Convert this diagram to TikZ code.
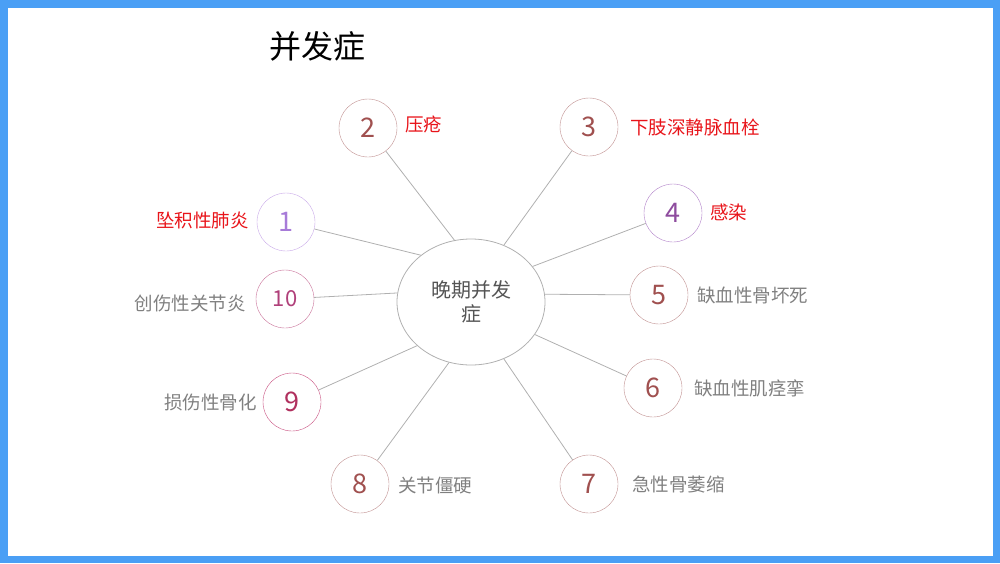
\documentclass[tikz,border=0pt]{standalone}
\usepackage{fontspec}
\setmainfont{Noto Sans CJK SC}
\usetikzlibrary{shapes.geometric}
\definecolor{frameblue}{HTML}{4A9FF5}
\definecolor{linegray}{HTML}{B0B0B0}
\definecolor{txtgray}{HTML}{808080}
\definecolor{txtred}{HTML}{E8141A}
\definecolor{brownc}{HTML}{C09090}
\definecolor{brownn}{HTML}{A0504F}
\definecolor{lavc}{HTML}{C8A8E8}
\definecolor{lavn}{HTML}{A77BD8}
\definecolor{violc}{HTML}{B080C8}
\definecolor{violn}{HTML}{8E4C9E}
\definecolor{pinkc}{HTML}{C87098}
\definecolor{pinkn}{HTML}{B0407A}
\definecolor{crimc}{HTML}{C85080}
\definecolor{crimn}{HTML}{B0305E}
\tikzset{
  num/.style={circle, draw=brownc, text=brownn, minimum size=58pt, inner sep=0pt, font=\fontsize{27}{27}\selectfont},
  redlab/.style={text=txtred, inner sep=0pt, font=\fontsize{18.5}{20}\selectfont},
  graylab/.style={text=txtgray, inner sep=0pt, font=\fontsize{18.5}{20}\selectfont},
  spoke/.style={draw=linegray, line width=0.8pt}
}
\begin{document}
\begin{tikzpicture}[x=1pt,y=-1pt]
\useasboundingbox (0,0) rectangle (1000,563);
\draw[frameblue, line width=7.5pt] (3.75,3.75) rectangle (996.25,559.25);
\node[font=\fontsize{32}{32}\selectfont] (title) at (317,46) {并发症};
\node[ellipse, draw=linegray, line width=0.8pt, minimum width=148pt, minimum height=126pt, text=black!67, align=center, font=\fontsize{20}{24}\selectfont] (c) at (471,302) {晚期并发\\症};
\node[num, draw=lavc, text=lavn] (n1) at (286,222) {1};
\node[num] (n2) at (368,128) {2};
\node[num] (n3) at (589,127) {3};
\node[num, draw=violc, text=violn] (n4) at (673,213) {4};
\node[num] (n5) at (659,295) {5};
\node[num] (n6) at (653,388) {6};
\node[num] (n7) at (589,484) {7};
\node[num] (n8) at (360,484) {8};
\node[num, draw=crimc, text=crimn] (n9) at (292,402) {9};
\node[num, draw=pinkc, text=pinkn, font=\fontsize{22}{22}\selectfont] (n10) at (285,299) {10};
\node[redlab, anchor=east] (l1) at (249,220) {坠积性肺炎};
\node[redlab, anchor=west] (l2) at (405,125) {压疮};
\node[redlab, anchor=west] (l3) at (630,127) {下肢深静脉血栓};
\node[redlab, anchor=west] (l4) at (710,212) {感染};
\node[graylab, anchor=west] (l5) at (697,295) {缺血性骨坏死};
\node[graylab, anchor=west] (l6) at (694,388) {缺血性肌痉挛};
\node[graylab, anchor=west] (l7) at (632,485) {急性骨萎缩};
\node[graylab, anchor=west] (l8) at (398,485) {关节僵硬};
\node[graylab, anchor=east] (l9) at (257,402) {损伤性骨化};
\node[graylab, anchor=east] (l10) at (246,303) {创伤性关节炎};
\draw[spoke] (c.137) -- (n1);
\draw[spoke] (c.105) -- (n2);
\draw[spoke] (c.60) -- (n3);
\draw[spoke] (c.30) -- (n4);
\draw[spoke] (c.6) -- (n5);
\draw[spoke] (c.-27) -- (n6);
\draw[spoke] (c.-60) -- (n7);
\draw[spoke] (c.-110) -- (n8);
\draw[spoke] (c.-141) -- (n9);
\draw[spoke] (c.173) -- (n10);
\end{tikzpicture}
\end{document}
